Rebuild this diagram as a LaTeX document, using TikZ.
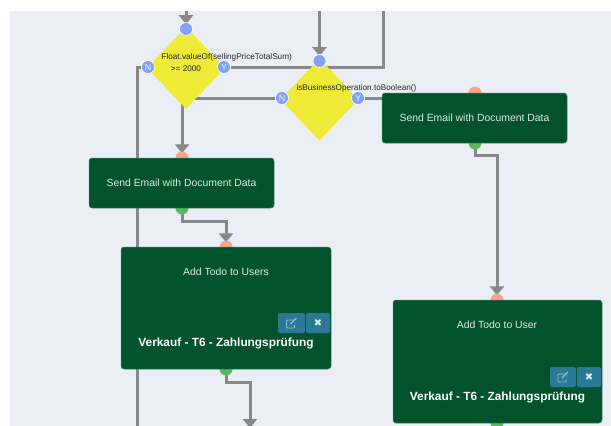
\documentclass[tikz,border=0pt]{standalone}
\usepackage{fontspec}
\setmainfont{Liberation Sans}
\newfontfamily\symfont{DejaVu Sans}
\usepackage{tikz}
\usetikzlibrary{shapes.geometric,arrows.meta}
\definecolor{canvascol}{HTML}{EBEEF4}
\definecolor{linecol}{HTML}{888888}
\definecolor{boxcol}{HTML}{02532B}
\definecolor{btncol}{HTML}{2A7A96}
\definecolor{decicol}{HTML}{EEEA36}
\definecolor{bluecol}{HTML}{81A1FB}
\definecolor{redcol}{HTML}{F6A58A}
\definecolor{greencol}{HTML}{5CB85C}
\definecolor{titlecol}{HTML}{DCEDE3}
\pgfdeclarelayer{canvas}
\pgfdeclarelayer{wires}
\pgfsetlayers{canvas,wires,main}
\tikzstyle{deci}=[shape=diamond,fill=decicol,inner sep=0pt,minimum width=78pt,minimum height=82pt]
\tikzstyle{pin}=[shape=circle,draw=white,line width=0.6pt,fill=bluecol,inner sep=0pt,minimum size=13pt,text=white!85!bluecol,font=\fontsize{9}{9}\selectfont]
\tikzstyle{inp}=[shape=circle,fill=redcol,inner sep=0pt,minimum size=13pt]
\tikzstyle{outp}=[shape=circle,fill=greencol,inner sep=0pt,minimum size=13pt]
\tikzstyle{task}=[shape=rectangle,rounded corners=3pt,draw=boxcol!70!canvascol,line width=0.5pt,fill=boxcol,inner sep=0pt,text=titlecol,font=\fontsize{10.4}{12}\selectfont]
\tikzstyle{title}=[text=titlecol,font=\fontsize{10.4}{12}\selectfont]
\tikzstyle{sub}=[text=white,font=\fontsize{11.85}{14}\selectfont\bfseries]
\tikzstyle{cond}=[text=black!85,font=\fontsize{8.2}{10}\selectfont]
\tikzstyle{btn}=[shape=rectangle,rounded corners=2pt,fill=btncol,inner sep=0pt,minimum height=20pt]
\tikzstyle{wire}=[draw=linecol,line width=3pt]
\tikzstyle{to}=[wire,-{Triangle[width=14pt,length=9pt]},shorten >=-2pt]
\newcommand{\editicon}[1]{
    \draw[titlecol!60!btncol,line width=0.8pt,rounded corners=1pt] ([shift={(3,-3)}]#1.center) -- ++(-8,0) -- ++(0,8) -- ++(8,0) -- ++(0,-3);
    \draw[titlecol!60!btncol,line width=1.3pt] ([shift={(-1,1)}]#1.center) -- ++(6,-6);
}
\begin{document}
\begin{tikzpicture}[x=1pt,y=-1pt]
    \useasboundingbox (0,0) rectangle (611,426);
    \begin{pgfonlayer}{canvas}
        \fill[white] (0,0) rectangle (611,426);
        \fill[canvascol] (10,11) rectangle (611,426);
    \end{pgfonlayer}
    % free ends
    \coordinate (TopA) at (186,11);
    \coordinate (TopB) at (319.5,11);
    \coordinate (TopC) at (383,11);
    \coordinate (LowA) at (137,432);
    \coordinate (LowB) at (250,426);
    % decisions
    \node[deci] (DecA) at (186,68) {};
    \node[deci] (DecB) at (319.5,99.5) {};
    \node[pin] (InA) at (186,29) {};
    \node[pin] (NoA) at (148,67) {N};
    \node[pin] (YesA) at (224,67) {Y};
    \node[pin] (InB) at (319.5,61) {};
    \node[pin] (NoB) at (282,98) {N};
    \node[pin] (YesB) at (358,98) {Y};
    \node[cond,anchor=west] (CondA) at (158,57.5) {Float.valueOf(sellingPriceTotalSum)};
    \node[cond] (CondAb) at (186,68.5) {>= 2000};
    \node[cond,anchor=west] (CondB) at (293,88.5) {isBusinessOperation.toBoolean()};
    % ports sit behind the tasks
    \node[inp] (RedA) at (182,158) {};
    \node[outp] (GreenA) at (182,208) {};
    \node[inp] (RedB) at (475,93) {};
    \node[outp] (GreenB) at (475,143) {};
    \node[inp] (RedC) at (226,247) {};
    \node[outp] (GreenC) at (226,369) {};
    \node[inp] (RedD) at (497,300) {};
    \node[outp] (GreenD) at (497,423) {};
    % tasks
    \node[task,minimum width=185pt,minimum height=50pt] (MailA) at (181.5,183) {Send Email with Document Data};
    \node[task,minimum width=185pt,minimum height=50pt] (MailB) at (474.5,118) {Send Email with Document Data};
    \node[task,minimum width=210pt,minimum height=122pt] (TodoA) at (226,308) {};
    \node[task,minimum width=209pt,minimum height=123pt] (TodoB) at (497.5,361.5) {};
    \node[title] (TitleA) at (226,271.5) {Add Todo to Users};
    \node[title] (TitleB) at (497,324.5) {Add Todo to User};
    \node[sub] (SubA) at (226,343.5) {Verkauf - T6 - Zahlungsprüfung};
    \node[sub] (SubB) at (497.5,397.5) {Verkauf - T6 - Zahlungsprüfung};
    % buttons
    \node[btn,minimum width=27pt] (EditA) at (291.5,323) {};
    \node[btn,minimum width=24pt,text=titlecol] (DropA) at (318,323) {\symfont\fontsize{10}{10}\selectfont ✖};
    \node[btn,minimum width=26pt] (EditB) at (563,377) {};
    \node[btn,minimum width=24pt,text=titlecol] (DropB) at (589,377) {\symfont\fontsize{10}{10}\selectfont ✖};
    \editicon{EditA}
    \editicon{EditB}
    % connectors
    \begin{pgfonlayer}{wires}
        \draw[to] (TopA) -- (InA);
        \draw[to] (TopB) -- (InB);
        \draw[wire] (YesA) -| (TopC);
        \draw[wire] (NoA) -| (LowA);
        \draw[to] (NoB) -| (RedA);
        \draw[to] (YesB) -| (RedB);
        \draw[to] (GreenA.center) -- ++(0,13) -| (RedC);
        \draw[to] (GreenB.center) -- ++(0,12) -| (RedD);
        \draw[to] (GreenC.center) -- ++(0,13) -| (LowB);
    \end{pgfonlayer}
\end{tikzpicture}
\end{document}
